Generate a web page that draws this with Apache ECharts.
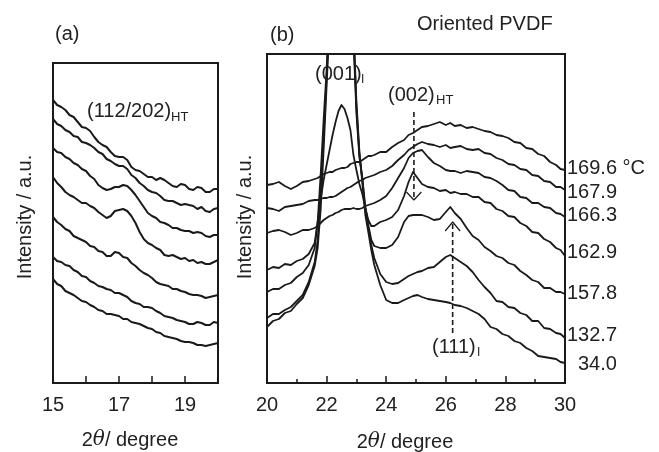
<!DOCTYPE html>
<html><head><meta charset="utf-8">
<script src="https://cdn.jsdelivr.net/npm/echarts/dist/echarts.min.js"></script>
<style>html,body{margin:0;padding:0;background:#fff}#c{width:659px;height:452px}</style>
</head><body><div id="c"></div>
<script>
// ---------- Panel (a): 2θ = 15–20 ----------
const xA = [15,15.125,15.25,15.375,15.5,15.625,15.75,15.875,16,16.125,16.25,16.375,16.5,16.625,16.75,16.875,17,17.125,17.25,17.375,17.5,17.625,17.75,17.875,18,18.125,18.25,18.375,18.5,18.625,18.75,18.875,19,19.125,19.25,19.375,19.5,19.625,19.75,19.875,20];
const a1 = [283,278,276,273,268,266,261,256,255,252,246,241,238,236,231,227,226,226,223,216,213,212,209,206,206,203,205,203,200,197,196,199,198,194,193,196,195,191,191,194,194];
const a2 = [264,259,257,253,251,247,246,241,240,238,235,231,229,224,222,219,217,217,214,208,205,200,197,193,191,190,187,183,182,182,180,178,179,178,177,174,176,172,171,174,175];
const a3 = [235,231,230,226,224,220,218,214,212,207,204,198,195,193,194,196,196,198,197,193,188,182,176,170,167,165,161,160,158,155,155,153,152,152,150,151,150,147,146,148,148];
const a4 = [206,200,196,191,188,186,183,180,180,177,175,171,168,165,167,172,173,174,172,167,160,151,144,140,138,135,133,128,127,128,126,124,125,122,123,120,121,119,119,121,123];
const a5 = [166,161,158,154,152,147,145,143,141,137,136,132,131,127,127,131,130,126,125,120,117,113,110,108,105,101,99,98,97,94,94,92,91,89,88,88,87,85,86,87,88];
const a6 = [126,122,121,118,117,113,111,107,106,102,100,97,96,94,93,90,90,88,86,82,80,79,76,76,75,72,70,67,66,65,63,62,61,59,59,61,60,58,58,61,60];
const a7 = [104,99,97,92,90,88,85,82,81,78,76,73,72,69,69,68,67,64,64,61,60,59,57,55,54,51,50,47,46,45,44,42,41,41,40,38,38,37,38,39,40];
const curvesA = [a1,a2,a3,a4,a5,a6,a7];
const ticksA = [15,17,19];

// ---------- Panel (b): 2θ = 20–30 ----------
const xB = [20,20.2,20.4,20.6,20.8,21,21.2,21.4,21.6,21.7,21.8,21.9,22,22.1,22.2,22.3,22.4,22.5,22.6,22.7,22.8,22.9,23,23.1,23.2,23.3,23.4,23.5,23.6,23.8,24,24.2,24.4,24.6,24.75,24.9,25.05,25.2,25.4,25.6,25.8,26,26.15,26.3,26.5,26.7,26.9,27.1,27.3,27.5,27.7,27.9,28.1,28.3,28.5,28.7,28.9,29.1,29.3,29.5,29.7,29.85,30];
const t169_6 = [198,199,201,197,194,197,201,202,204,205,207,209,210,211,211,213,214,215,215,216,219,220,221,221,223,225,227,227,228,231,231,236,240,243,248,250,253,256,257,259,261,258,260,257,258,255,256,254,252,251,248,247,245,241,240,235,234,229,227,221,218,214,213];
const t167_9 = [175,174,172,176,177,178,179,182,183,183,184,185,185,186,186,187,189,191,193,195,196,198,200,202,203,205,206,207,208,211,213,217,223,228,233,236,239,241,239,238,236,238,235,236,237,234,233,234,230,229,225,223,219,218,214,213,208,207,202,201,196,196,193];
const t166_3 = [150,152,153,151,148,150,153,153,155,157,160,163,165,167,168,170,171,173,174,174,174,175,174,174,175,177,178,179,180,183,187,195,205,215,225,230,232,233,226,220,217,213,212,212,210,212,211,210,206,205,202,198,193,192,186,185,180,180,176,175,170,169,166];
const t162_9 = [113,116,115,119,118,122,124,129,140,161,183,203,218,233,248,261,272,278,274,265,253,228,213,199,189,175,163,157,157,161,163,166,173,187,201,211,205,199,196,195,192,193,190,191,189,189,186,186,181,180,174,172,167,166,160,157,151,150,144,141,135,133,127];
const t157_8 = [91,94,94,98,100,106,110,118,135,161,208,263,313,380,450,500,530,540,530,500,440,345,270,226,205,176,158,143,137,135,135,138,146,161,167,168,168,168,166,163,164,171,176,170,164,155,147,143,136,132,127,125,120,118,112,108,103,101,95,95,91,91,89];
const t132_7 = [65,69,69,73,76,82,88,101,121,143,188,248,305,370,440,490,520,530,520,490,435,352,276,229,203,173,155,138,125,109,101,99,100,104,107,109,111,112,115,116,121,126,128,125,121,117,111,103,96,90,82,81,76,75,70,68,62,62,55,54,50,49,45];
const t34_0 = [56,62,64,70,72,79,85,98,117,135,173,233,297,360,430,480,510,520,510,480,430,358,282,232,200,168,151,133,118,98,83,80,80,83,85,87,88,86,84,83,82,81,80,78,77,75,72,69,64,56,54,49,47,42,40,35,32,27,26,25,24,21,20];
const curvesB = [t169_6,t167_9,t166_3,t162_9,t157_8,t132_7,t34_0];
const tempLabels = ['169.6 °C','167.9','166.3','162.9','157.8','132.7','34.0'];

// annotation arrows (data coordinates)
const arrow002 = [[24.93,271],[24.93,183]];
const head002 = [[24.68,191],[24.93,183],[25.18,191]];
const arrow111 = [[26.23,50],[26.23,161]];
const head111 = [[25.98,152],[26.23,161],[26.48,152]];

const FONT = "'Liberation Sans', Arial, Helvetica, sans-serif";
const INK = '#1a1a1a';
const TXT = '#222';

const chart = echarts.init(document.getElementById('c'), null, {renderer:'canvas'});

function curve(xs, ys, gi, w){
  return {type:'line', xAxisIndex:gi, yAxisIndex:gi, data: xs.map((x,i)=>[x, ys[i]]),
    symbol:'none', showSymbol:false, clip:true, silent:true, animation:false,
    lineStyle:{color:INK, width:w, join:'round'}};
}
const series = [];
curvesA.forEach(c => series.push(curve(xA, c, 0, 2)));
curvesB.forEach(c => series.push(curve(xB, c, 1, 1.8)));
series.push({type:'line', xAxisIndex:1, yAxisIndex:1, data:arrow002, symbol:'none', silent:true, animation:false, lineStyle:{color:INK, width:1.6, type:[5,3]}});
series.push({type:'line', xAxisIndex:1, yAxisIndex:1, data:head002, symbol:'none', silent:true, animation:false, lineStyle:{color:INK, width:1.2}});
series.push({type:'line', xAxisIndex:1, yAxisIndex:1, data:arrow111, symbol:'none', silent:true, animation:false, lineStyle:{color:INK, width:1.6, type:[5,3]}});
series.push({type:'line', xAxisIndex:1, yAxisIndex:1, data:head111, symbol:'none', silent:true, animation:false, lineStyle:{color:INK, width:1.2}});

function txt(text, x, y, size, opts){
  opts = opts || {};
  return {type:'text', x:x, y:y, rotation: opts.rot || 0, silent:true,
    style:{text:text, fontSize:size, fontFamily:FONT, fill:TXT,
      align: opts.align || 'left', verticalAlign:'middle'}};
}
const graphics = [
  txt('(a)', 55, 34, 20),
  txt('(b)', 270, 35, 20),
  txt('Oriented PVDF', 417, 24, 20),
  txt('Intensity / a.u.', 25, 217, 20, {rot:Math.PI/2, align:'center'}),
  txt('Intensity / a.u.', 245, 217, 20, {rot:Math.PI/2, align:'center'}),
  txt('(112/202)', 87, 111, 20),
  txt('HT', 171, 117, 13),
  txt('(001)', 315, 74, 20),
  txt('I', 361, 80, 12),
  txt('(002)', 388, 95, 20),
  txt('HT', 436, 100, 13),
  txt('(111)', 432, 347, 20),
  txt('I', 477, 353, 12),
];
const labelY = [168,192,215,252,293,335,364];
tempLabels.forEach((t,i) => graphics.push(txt(t, i === 6 ? 578 : 567, labelY[i], 20)));
function xTitle(cx, cy){
  return {type:'text', x:cx, y:cy, silent:true,
    style:{text:'{n|2}{t|θ}{n|/ degree}', align:'center', verticalAlign:'middle', fill:TXT,
      rich:{n:{fontSize:20, fontFamily:FONT, fill:TXT}, t:{fontSize:20, fontFamily:"'DejaVu Serif', serif", fontStyle:'italic', fill:TXT}}}};
}
graphics.push(xTitle(130, 440));
graphics.push(xTitle(405, 442));

const axisTickStyle = {color:INK, width:1.5};
chart.setOption({
  animation:false,
  backgroundColor:'#fff',
  grid:[
    {left:53, top:63, width:165, height:320, show:true, borderColor:INK, borderWidth:2, backgroundColor:'transparent'},
    {left:267, top:54, width:298, height:329, show:true, borderColor:INK, borderWidth:2, backgroundColor:'transparent'}
  ],
  xAxis:[
    {type:'value', gridIndex:0, min:15, max:20, interval:1,
      axisLine:{show:false}, splitLine:{show:false},
      axisTick:{show:true, inside:true, length:7, lineStyle:axisTickStyle},
      axisLabel:{margin:12, fontSize:20, fontFamily:FONT, color:TXT,
        formatter: v => ticksA.indexOf(v) >= 0 ? String(v) : ''}},
    {type:'value', gridIndex:1, min:20, max:30, interval:2,
      axisLine:{show:false}, splitLine:{show:false},
      axisTick:{show:true, inside:true, length:7, lineStyle:axisTickStyle},
      minorTick:{show:true, splitNumber:2, length:4, lineStyle:axisTickStyle},
      axisLabel:{margin:12, fontSize:20, fontFamily:FONT, color:TXT}}
  ],
  yAxis:[
    {type:'value', gridIndex:0, min:0, max:320, show:false},
    {type:'value', gridIndex:1, min:0, max:329, show:false}
  ],
  series: series,
  graphic: graphics
});
</script></body></html>
